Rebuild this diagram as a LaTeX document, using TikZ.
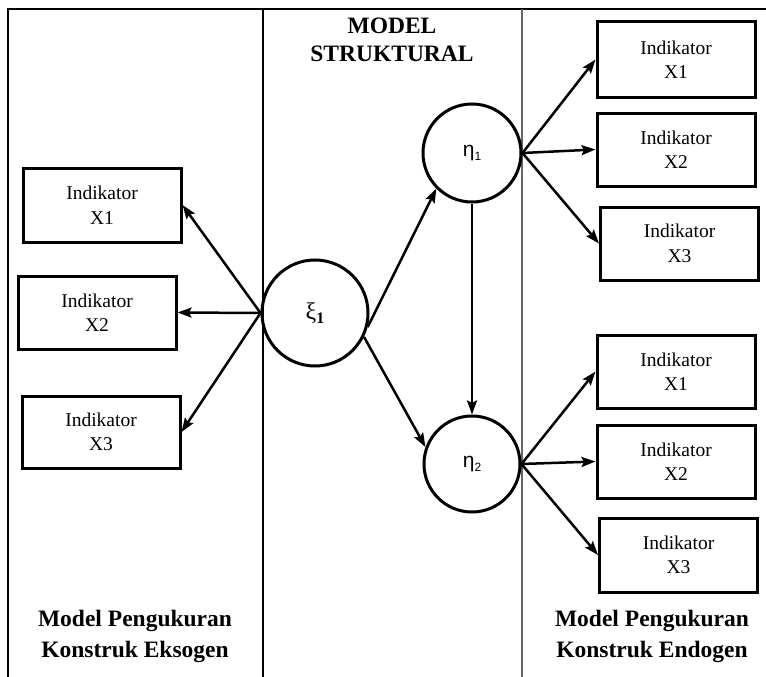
\documentclass[tikz,border=0pt]{standalone}
\usepackage{fontspec}
\setmainfont{Liberation Serif}
\newfontfamily\greeksans{Liberation Sans}
\usetikzlibrary{arrows.meta}
\begin{document}
\begin{tikzpicture}[x=1pt,y=-1pt,
  ind/.style={draw, line width=3pt, minimum width=158pt, minimum height=73pt,
    inner sep=0pt, align=center, font=\fontsize{19.5}{24.5}\selectfont},
  lat/.style={draw, circle, line width=3pt, inner sep=0pt},
  arr/.style={line width=2.5pt, -{Stealth[length=14pt,width=10pt,inset=2.5pt]}},
  ttl/.style={font=\bfseries\fontsize{23.5}{31}\selectfont, align=center},
  frame/.style={line width=2.2pt},
  divider/.style={line width=1.1pt},
]
\useasboundingbox (0,0) rectangle (766,677);

% frame and column dividers
\draw[frame] (766,9) -- (8,9) -- (8,677);
\draw[divider] (263,9) -- (263,677);
\draw[divider, black!60] (522,9) -- (522,677);

% headings
\node[ttl, font=\bfseries\fontsize{23.5}{28}\selectfont] (title) at (392,40) {MODEL\\STRUKTURAL};
\node[ttl] (exo) at (135,636) {Model Pengukuran\\Konstruk Eksogen};
\node[ttl] (endo) at (652,636) {Model Pengukuran\\Konstruk Endogen};

% latent variables
\node[lat, minimum size=106pt] (xi) at (315,313)
  {\fontsize{24}{24}\selectfont ξ\raisebox{-4pt}{\fontsize{16}{16}\selectfont\bfseries 1}};
\node[lat, minimum size=98pt] (eta1) at (472,153)
  {\greeksans\fontsize{21}{21}\selectfont η\raisebox{-4pt}{\fontsize{12}{12}\selectfont 1}};
\node[lat, minimum size=96pt] (eta2) at (472,464)
  {\greeksans\fontsize{21}{21}\selectfont η\raisebox{-4pt}{\fontsize{12}{12}\selectfont 2}};

% exogenous indicators
\node[ind, minimum height=74pt] (lx1) at (102,205) {Indikator\\X1};
\node[ind] (lx2) at (97,312.5) {Indikator\\X2};
\node[ind, minimum height=72pt] (lx3) at (101,432) {Indikator\\X3};

% endogenous indicators of eta1
\node[ind, minimum height=75pt] (ra1) at (676,59.5) {Indikator\\X1};
\node[ind] (ra2) at (676,149.5) {Indikator\\X2};
\node[ind] (ra3) at (679.5,243.5) {Indikator\\X3};

% endogenous indicators of eta2
\node[ind] (rb1) at (676,371.5) {Indikator\\X1};
\node[ind] (rb2) at (676,461.5) {Indikator\\X2};
\node[ind, minimum height=74pt] (rb3) at (678.5,555) {Indikator\\X3};

% measurement arrows (exogenous)
\draw[arr] (xi.west) -- (lx1.east);
\draw[arr] (xi.west) -- (lx2.east);
\draw[arr] (xi.west) -- (lx3.east);

% structural paths
\draw[arr] (xi.-15) -- (eta1.-135);
\draw[arr] (xi.-26) -- (eta2.160);
\draw[arr] (eta1.south) -- (eta2.north);

% measurement arrows (endogenous)
\draw[arr] (eta1.east) -- (ra1.west);
\draw[arr] (eta1.east) -- (ra2.west);
\draw[arr] (eta1.east) -- (ra3.west);
\draw[arr] (eta2.east) -- (rb1.west);
\draw[arr] (eta2.east) -- (rb2.west);
\draw[arr] (eta2.east) -- (rb3.west);
\end{tikzpicture}
\end{document}
